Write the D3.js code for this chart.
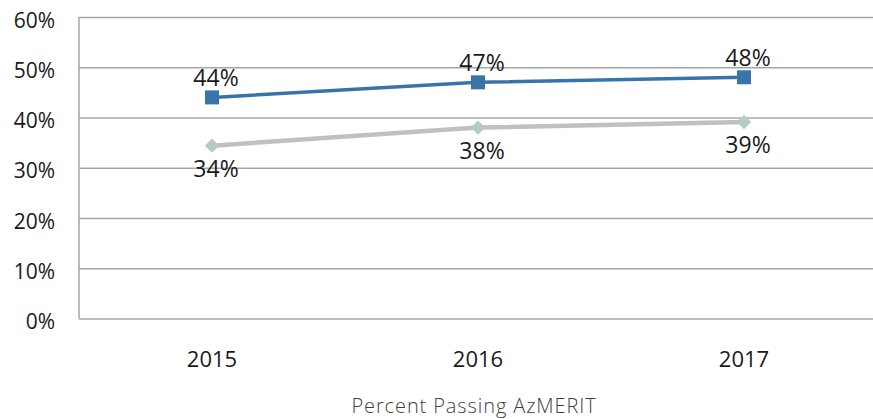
<!DOCTYPE html>
<meta charset="utf-8">
<style>
body { margin: 0; background: #fff; }
svg { display: block; }
.grid line { stroke: #a6a6a6; stroke-width: 1.5; }
.grid .domain { display: none; }
.ylab text { font-family: "Open Sans", sans-serif; font-size: 21px; fill: #1a1a1a; }
.xlab text { font-family: "Open Sans", sans-serif; font-size: 22px; fill: #1a1a1a; }
.dlab { font-family: "Open Sans", sans-serif; font-size: 23px; fill: #1a1a1a; }
.title { font-family: "Open Sans", "Lato", sans-serif; font-weight: 300; font-size: 20px; letter-spacing: 0.9px; fill: #3f3f3f; }
</style>
<svg width="873" height="419"></svg>
<script src="https://cdn.jsdelivr.net/npm/d3@7"></script>
<script>
var years = ["2015", "2016", "2017"];
var blueVals = [44, 47, 48];
var grayVals = [34.4, 38, 39.1];
var blueLabels = ["44%", "47%", "48%"];
var grayLabels = ["34%", "38%", "39%"];
var yTicks = [0, 10, 20, 30, 40, 50, 60];

var svg = d3.select("svg");
var mLeft = 79, mTop = 17, mRight = 877, mBottom = 318.5;

var x = d3.scaleBand().domain(years).range([mLeft, mRight]);
var y = d3.scaleLinear().domain([0, 60]).range([mBottom, mTop]);

// gridlines
svg.append("g")
    .attr("class", "grid")
    .attr("transform", "translate(" + mLeft + ",0)")
    .call(d3.axisLeft(y).tickValues(yTicks).tickSize(-(mRight - mLeft)).tickFormat(""));

// left axis line
svg.append("line")
    .attr("x1", mLeft).attr("x2", mLeft)
    .attr("y1", y(60)).attr("y2", y(0))
    .attr("stroke", "#a6a6a6").attr("stroke-width", 1.5);

// y labels
var yl = svg.append("g").attr("class", "ylab")
    .attr("transform", "translate(" + mLeft + ",0)")
    .call(d3.axisLeft(y).tickValues(yTicks).tickSize(0).tickPadding(24)
      .tickFormat(function(d) { return d + "%"; }));
yl.select(".domain").remove();
yl.selectAll("text").attr("dy", 10);

// x labels
var xl = svg.append("g").attr("class", "xlab")
    .attr("transform", "translate(0," + mBottom + ")")
    .call(d3.axisBottom(x).tickSize(0));
xl.select(".domain").remove();
xl.selectAll("text").attr("dy", 0).attr("y", 48);

function cx(d, i) { return x(years[i]) + x.bandwidth() / 2; }

var line = d3.line()
    .x(function(d, i) { return cx(d, i); })
    .y(function(d) { return y(d); });

// gray series
svg.append("path").datum(grayVals)
    .attr("fill", "none").attr("stroke", "#c0c0c0").attr("stroke-width", 4.5)
    .attr("d", line);
svg.selectAll(".dia").data(grayVals).enter().append("path")
    .attr("class", "dia")
    .attr("d", d3.symbol().type(d3.symbolDiamond2).size(130))
    .attr("transform", function(d, i) { return "translate(" + cx(d, i) + "," + y(d) + ")"; })
    .attr("fill", "#b2cdbf");

// blue series
svg.append("path").datum(blueVals)
    .attr("fill", "none").attr("stroke", "#3a73a8").attr("stroke-width", 3.5)
    .attr("d", line);
svg.selectAll(".sq").data(blueVals).enter().append("rect")
    .attr("class", "sq")
    .attr("x", function(d, i) { return cx(d, i) - 7; })
    .attr("y", function(d) { return y(d) - 7; })
    .attr("width", 14).attr("height", 14)
    .attr("fill", "#3a73a8");

// data labels
svg.selectAll(".bl").data(blueVals).enter().append("text")
    .attr("class", "dlab")
    .attr("text-anchor", "middle")
    .attr("x", function(d, i) { return cx(d, i) + 4; })
    .attr("y", function(d) { return y(d) - 11; })
    .text(function(d, i) { return blueLabels[i]; });
svg.selectAll(".gl").data(grayVals).enter().append("text")
    .attr("class", "dlab")
    .attr("text-anchor", "middle")
    .attr("x", function(d, i) { return cx(d, i) + 4; })
    .attr("y", function(d) { return y(d) + 31; })
    .text(function(d, i) { return grayLabels[i]; });

svg.append("text")
    .attr("class", "title")
    .attr("text-anchor", "middle")
    .attr("x", 474).attr("y", 413)
    .text("Percent Passing AzMERIT");
</script>
